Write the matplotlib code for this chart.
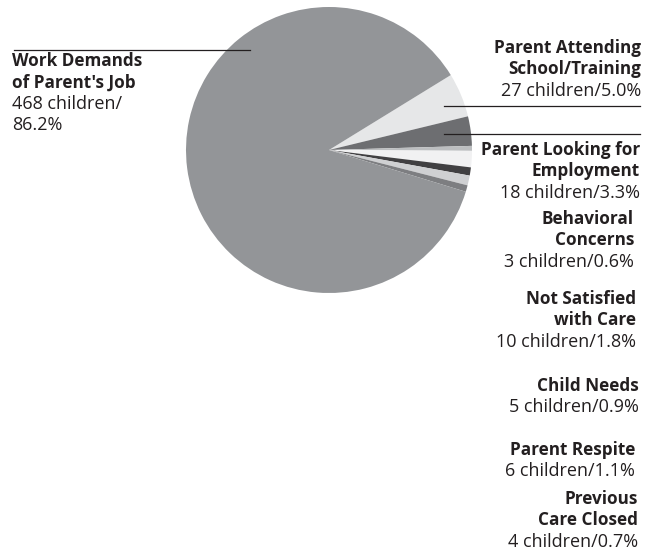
import matplotlib
matplotlib.use('Agg')
from matplotlib import pyplot
from matplotlib.lines import Line2D

# slices in clockwise order starting at upper right
names = [
    ['Parent Attending', 'School/Training'],
    ['Parent Looking for', 'Employment'],
    ['Behavioral', 'Concerns'],
    ['Not Satisfied', 'with Care'],
    ['Child Needs'],
    ['Parent Respite'],
    ['Previous', 'Care Closed'],
    ['Work Demands', "of Parent's Job"],
]
counts = [27, 18, 3, 10, 5, 6, 4, 468]
pcts = ['5.0%', '3.3%', '0.6%', '1.8%', '0.9%', '1.1%', '0.7%', '86.2%']
colors = ['#e6e7e8', '#6d6e71', '#bcbec0', '#f1f1f2', '#414042',
          '#cfd0d2', '#7d7e81', '#939598']

W, H = 655, 552


def fy(y):
    return 1 - y / H


fig = pyplot.figure(figsize=(W / 100, H / 100), dpi=100)

cx, cy, r = 329, 150, 143
ax = fig.add_axes([(cx - r) / W, fy(cy + r), 2 * r / W, 2 * r / H])
ax.pie(counts, colors=colors, startangle=31.6, counterclock=False,
       wedgeprops={'linewidth': 0})
ax.set_xlim(-1, 1)
ax.set_ylim(-1, 1)
ax.axis('off')

font = 'Open Sans'
fs_b = 12.3
fs_r = 13.0
tc = '#231f20'

# right-side label blocks: first line y, right edge x
right_pos = [(48, 641), (150, 640), (219, 634), (299, 636),
             (386, 639), (450, 635), (499, 638)]
step = 21.3

for i in range(7):
    y0, xr = right_pos[i]
    lines = names[i]
    for j, t in enumerate(lines):
        fig.text(xr / W, fy(y0 + j * step), t, ha='right', va='center',
                 fontsize=fs_b, fontweight='bold', family=font, color=tc)
    fig.text(xr / W, fy(y0 + len(lines) * step),
             '{} children/{}'.format(counts[i], pcts[i]),
             ha='right', va='center', fontsize=fs_r, family=font, color=tc)

# left label
x0 = 12 / W
for j, t in enumerate(names[7]):
    fig.text(x0, fy(61 + j * step), t, ha='left', va='center',
             fontsize=fs_b, fontweight='bold', family=font, color=tc)
fig.text(x0, fy(61 + 2 * step), '{} children/'.format(counts[7]), ha='left',
         va='center', fontsize=fs_r, family=font, color=tc)
fig.text(x0, fy(61 + 3 * step), pcts[7], ha='left', va='center',
         fontsize=fs_r, family=font, color=tc)

# leader lines
for (xa, xb, y) in [(14, 250, 50), (444, 640, 106), (444, 640, 134)]:
    fig.add_artist(Line2D([xa / W, xb / W], [fy(y), fy(y)],
                          color=tc, linewidth=0.9))

fig.savefig('out.png', dpi=100)
